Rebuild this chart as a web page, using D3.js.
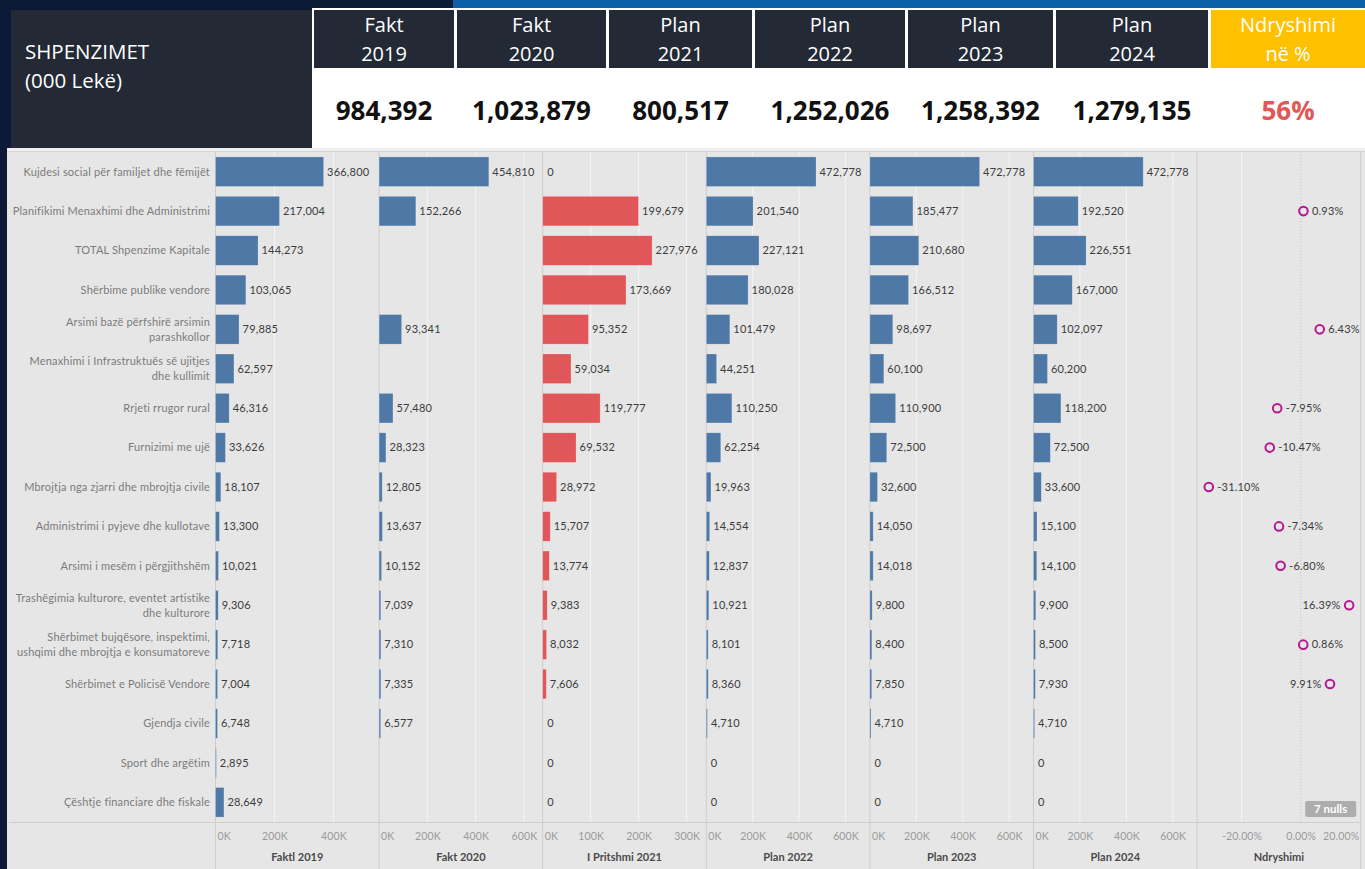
<!DOCTYPE html>
<html>
<head>
<meta charset="utf-8">
<script src="https://cdn.jsdelivr.net/npm/d3@7"></script>
<style>
  body { margin: 0; background: #0c1a38; overflow: hidden; }
  svg { display: block; }
</style>
</head>
<body>
<script>
// categories (row labels), "\n" marks where the label wraps
var categories = [
  "Kujdesi social për familjet dhe fëmijët",
  "Planifikimi Menaxhimi dhe Administrimi",
  "TOTAL Shpenzime Kapitale",
  "Shërbime publike vendore",
  "Arsimi bazë përfshirë arsimin\nparashkollor",
  "Menaxhimi i Infrastruktuës së ujitjes\ndhe kullimit",
  "Rrjeti rrugor rural",
  "Furnizimi me ujë",
  "Mbrojtja nga zjarri dhe mbrojtja civile",
  "Administrimi i pyjeve dhe kullotave",
  "Arsimi i mesëm i përgjithshëm",
  "Trashëgimia kulturore, eventet artistike\ndhe kulturore",
  "Shërbimet bujqësore, inspektimi,\nushqimi dhe mbrojtja e konsumatoreve",
  "Shërbimet e Policisë Vendore",
  "Gjendja civile",
  "Sport dhe argëtim",
  "Çështje financiare dhe fiskale"
];

// series values (000 Lekë), null = no value
var fakt2019     = [366800, 217004, 144273, 103065, 79885, 62597, 46316, 33626, 18107, 13300, 10021, 9306, 7718, 7004, 6748, 2895, 28649];
var fakt2020     = [454810, 152266, null, null, 93341, null, 57480, 28323, 12805, 13637, 10152, 7039, 7310, 7335, 6577, null, null];
var pritshmi2021 = [0, 199679, 227976, 173669, 95352, 59034, 119777, 69532, 28972, 15707, 13774, 9383, 8032, 7606, 0, 0, 0];
var plan2022     = [472778, 201540, 227121, 180028, 101479, 44251, 110250, 62254, 19963, 14554, 12837, 10921, 8101, 8360, 4710, 0, 0];
var plan2023     = [472778, 185477, 210680, 166512, 98697, 60100, 110900, 72500, 32600, 14050, 14018, 9800, 8400, 7850, 4710, 0, 0];
var plan2024     = [472778, 192520, 226551, 167000, 102097, 60200, 118200, 72500, 33600, 15100, 14100, 9900, 8500, 7930, 4710, 0, 0];
var ndryshimi    = [null, 0.0093, null, null, 0.0643, null, -0.0795, -0.1047, -0.3110, -0.0734, -0.0680, 0.1639, 0.0086, 0.0991, null, null, null];

// panels
var panelTitles = ["Faktl 2019", "Fakt 2020", "I Pritshmi 2021", "Plan 2022", "Plan 2023", "Plan 2024", "Ndryshimi"];
var panelSeries = [fakt2019, fakt2020, pritshmi2021, plan2022, plan2023, plan2024];
var panelMax    = [555000, 678000, 341000, 705000, 705000, 705000];
var panelTicks  = [
  [0, 200000, 400000],
  [0, 200000, 400000, 600000],
  [0, 100000, 200000, 300000],
  [0, 200000, 400000, 600000],
  [0, 200000, 400000, 600000],
  [0, 200000, 400000, 600000]
];
var pctDomain = [-0.3505, 0.203];
var pctTicks  = [-0.2, 0, 0.2];

// header table
var headerTitles = [["Fakt", "2019"], ["Fakt", "2020"], ["Plan", "2021"], ["Plan", "2022"], ["Plan", "2023"], ["Plan", "2024"], ["Ndryshimi", "në %"]];
var headerTotals = ["984,392", "1,023,879", "800,517", "1,252,026", "1,258,392", "1,279,135", "56%"];
var headerLeft   = ["SHPENZIMET", "(000 Lekë)"];

// layout
var W = 1365, H = 869;
var headerEdges = [314, 457, 609, 755, 908, 1056, 1211, 1368];
var plotTop = 152, plotBottom = 822;
var panelLeft = 215.5, panelW = 163.6;
var blue = "#4e79a7", red = "#e15759", magenta = "#b5178e";
var chartFont = "Lato, 'Open Sans', sans-serif";
var headFont = "'Open Sans', 'Noto Sans', sans-serif";

var svg = d3.select("body").append("svg")
  .attr("width", W)
  .attr("height", H);

// page background bits
svg.append("rect").attr("width", W).attr("height", H).attr("fill", "#0c1a38");
svg.append("rect").attr("x", 453).attr("y", 0).attr("width", W - 453).attr("height", 8).attr("fill", "#0a5fa8");

/* header table */
var head = svg.append("g").attr("font-family", headFont);
head.append("rect").attr("x", 312).attr("y", 8).attr("width", W - 312).attr("height", 140).attr("fill", "#ffffff");
head.append("rect").attr("x", 11).attr("y", 10).attr("width", 301).attr("height", 138).attr("fill", "#232a36");
head.selectAll("text.left")
  .data(headerLeft)
  .enter().append("text")
  .attr("class", "left")
  .attr("x", 25)
  .attr("y", function (d, i) { return 59 + i * 29; })
  .attr("fill", "#ffffff")
  .attr("font-size", 20.5)
  .text(function (d) { return d; });

headerTitles.forEach(function (t, i) {
  var x0 = headerEdges[i], x1 = headerEdges[i + 1] - 3;
  var cx = (x0 + x1) / 2;
  head.append("rect")
    .attr("x", x0).attr("y", 10)
    .attr("width", x1 - x0).attr("height", 58)
    .attr("fill", i === 6 ? "#ffc000" : "#232a36");
  head.selectAll("text.t" + i)
    .data(t)
    .enter().append("text")
    .attr("x", cx)
    .attr("y", function (d, j) { return 25 + j * 29; })
    .attr("dy", "0.35em")
    .attr("text-anchor", "middle")
    .attr("fill", "#ffffff")
    .attr("font-size", 20)
    .text(function (d) { return d; });
  head.append("text")
    .attr("x", cx)
    .attr("y", 111)
    .attr("dy", "0.35em")
    .attr("text-anchor", "middle")
    .attr("font-size", 26)
    .attr("font-weight", 700)
    .attr("fill", i === 6 ? "#e35656" : "#111111")
    .text(headerTotals[i]);
});

/* chart area */
var chart = svg.append("g").attr("font-family", chartFont);
chart.append("rect").attr("x", 7).attr("y", 148).attr("width", W - 7).attr("height", H - 148).attr("fill", "#e6e6e6");
chart.append("rect").attr("x", 7).attr("y", 148).attr("width", W - 7).attr("height", 3).attr("fill", "#efefef");
chart.append("line").attr("x1", 7).attr("x2", W).attr("y1", 151.5).attr("y2", 151.5).attr("stroke", "#d4d4d4");

var y = d3.scaleBand()
  .domain(categories)
  .range([plotTop, plotBottom])
  .paddingInner(0.25)
  .paddingOuter(0.125);

function rowMid(i) { return y(categories[i]) + y.bandwidth() / 2; }

// row labels
var rowLabels = chart.append("g");
categories.forEach(function (c, i) {
  var lines = c.split("\n");
  var t = rowLabels.append("text")
    .attr("text-anchor", "end")
    .attr("fill", "#7b7b7b")
    .attr("font-size", 11)
    .attr("letter-spacing", 0.18);
  lines.forEach(function (l, j) {
    t.append("tspan")
      .attr("x", 210)
      .attr("y", rowMid(i) + (j - (lines.length - 1) / 2) * 15)
      .attr("dy", "0.35em")
      .text(l);
  });
});

// x scales for panels
var xScales = panelMax.map(function (m, i) {
  return d3.scaleLinear().domain([0, m]).range([panelLeft + i * panelW, panelLeft + (i + 1) * panelW]);
});
var xPct = d3.scaleLinear().domain(pctDomain).range([panelLeft + 6 * panelW, panelLeft + 7 * panelW]);

var grid = chart.append("g");
var marks = chart.append("g");

// gridlines
xScales.forEach(function (x, i) {
  grid.selectAll("line.g" + i)
    .data(panelTicks[i].filter(function (d) { return d !== 0; }))
    .enter().append("line")
    .attr("x1", function (d) { return x(d); })
    .attr("x2", function (d) { return x(d); })
    .attr("y1", plotTop).attr("y2", plotBottom)
    .attr("stroke", "#f4f4f4");
});
grid.selectAll("line.gp")
  .data(pctTicks.filter(function (d) { return d < 0; }))
  .enter().append("line")
  .attr("x1", function (d) { return xPct(d); })
  .attr("x2", function (d) { return xPct(d); })
  .attr("y1", plotTop).attr("y2", plotBottom)
  .attr("stroke", "#f4f4f4");
grid.append("line")
  .attr("x1", xPct(0)).attr("x2", xPct(0))
  .attr("y1", plotTop).attr("y2", plotBottom)
  .attr("stroke", "#c4c4c4")
  .attr("stroke-dasharray", "1,2");

// axis rule and panel borders
grid.append("line")
  .attr("x1", 9).attr("x2", panelLeft + 7 * panelW)
  .attr("y1", plotBottom + 0.5).attr("y2", plotBottom + 0.5)
  .attr("stroke", "#cfcfcf");
grid.selectAll("line.border")
  .data(d3.range(8))
  .enter().append("line")
  .attr("x1", function (d) { return panelLeft + d * panelW; })
  .attr("x2", function (d) { return panelLeft + d * panelW; })
  .attr("y1", plotTop).attr("y2", H)
  .attr("stroke", "#cdcdcd");

// bars and value labels
panelSeries.forEach(function (vals, i) {
  var x = xScales[i];
  var data = vals.map(function (v, j) { return { v: v, j: j }; }).filter(function (d) { return d.v !== null; });
  marks.selectAll("rect.b" + i)
    .data(data)
    .enter().append("rect")
    .attr("x", x(0))
    .attr("y", function (d) { return y(categories[d.j]); })
    .attr("width", function (d) { return x(d.v) - x(0); })
    .attr("height", y.bandwidth())
    .attr("fill", i === 2 ? red : blue)
    .attr("stroke", "rgba(255,255,255,0.35)")
    .attr("stroke-width", 0.6);
  marks.selectAll("text.v" + i)
    .data(data)
    .enter().append("text")
    .attr("x", function (d) { return d.v === 0 ? x(0) + 4.5 : x(d.v) + 3.5; })
    .attr("y", function (d) { return rowMid(d.j); })
    .attr("dy", "0.35em")
    .attr("font-size", 11)
    .attr("letter-spacing", 0.2)
    .attr("fill", "#3c3c3c")
    .text(function (d) { return d3.format(",")(d.v); });
});

// percentage change points
function pctFmt(v) { return (v * 100).toFixed(2) + "%"; }
var pts = ndryshimi.map(function (v, j) { return { v: v, j: j }; }).filter(function (d) { return d.v !== null; });
marks.selectAll("circle.p")
  .data(pts)
  .enter().append("circle")
  .attr("cx", function (d) { return xPct(d.v); })
  .attr("cy", function (d) { return rowMid(d.j); })
  .attr("r", 4.3)
  .attr("fill", "none")
  .attr("stroke", magenta)
  .attr("stroke-width", 2);
marks.selectAll("text.p")
  .data(pts)
  .enter().append("text")
  .attr("x", function (d) { return d.v > 0.08 ? xPct(d.v) - 8.5 : xPct(d.v) + 8.5; })
  .attr("y", function (d) { return rowMid(d.j); })
  .attr("dy", "0.35em")
  .attr("text-anchor", function (d) { return d.v > 0.08 ? "end" : "start"; })
  .attr("font-size", 11)
  .attr("letter-spacing", 0.2)
  .attr("fill", "#3c3c3c")
  .text(function (d) { return pctFmt(d.v); });

// nulls badge
var nullCount = ndryshimi.filter(function (v) { return v === null; }).length;
var badgeR = panelLeft + 7 * panelW - 4.5;
marks.append("rect")
  .attr("x", badgeR - 51).attr("y", 801)
  .attr("width", 51).attr("height", 16)
  .attr("rx", 2)
  .attr("fill", "#adadad");
marks.append("text")
  .attr("x", badgeR - 25.5).attr("y", 809)
  .attr("dy", "0.35em")
  .attr("text-anchor", "middle")
  .attr("font-size", 11.5)
  .attr("font-weight", 700)
  .attr("fill", "#ffffff")
  .text(nullCount + " nulls");

// axes
function clampLabels(g, left, right) {
  g.selectAll(".tick").each(function (d) {
    var tick = d3.select(this);
    var tx = +tick.attr("transform").match(/translate\(([-\d.]+)/)[1];
    var txt = tick.select("text");
    var w = txt.node().getBBox().width;
    var shift = 0;
    if (tx - w / 2 < left + 2) shift = left + 2 - (tx - w / 2);
    if (tx + w / 2 > right - 1.5) shift = right - 1.5 - (tx + w / 2);
    txt.attr("x", shift);
  });
}

function styleAxis(g) {
  g.select(".domain").remove();
  g.selectAll(".tick line").remove();
  g.selectAll(".tick text")
    .attr("y", 14.5)
    .attr("dy", "0.35em")
    .attr("fill", "#9a9a9a")
    .attr("font-size", 10.5)
    .attr("letter-spacing", 0.15)
    .attr("font-family", chartFont);
}

xScales.forEach(function (x, i) {
  var g = chart.append("g")
    .attr("transform", "translate(0," + plotBottom + ")")
    .call(d3.axisBottom(x).tickValues(panelTicks[i]).tickSize(0)
      .tickFormat(function (d) { return (d / 1000) + "K"; }));
  styleAxis(g);
  clampLabels(g, x.range()[0], x.range()[1]);
});
var gp = chart.append("g")
  .attr("transform", "translate(0," + plotBottom + ")")
  .call(d3.axisBottom(xPct).tickValues(pctTicks).tickSize(0).tickFormat(pctFmt));
styleAxis(gp);
clampLabels(gp, xPct.range()[0], xPct.range()[1]);

// panel titles
chart.selectAll("text.title")
  .data(panelTitles)
  .enter().append("text")
  .attr("x", function (d, i) { return panelLeft + (i + 0.5) * panelW; })
  .attr("y", 857)
  .attr("dy", "0.35em")
  .attr("text-anchor", "middle")
  .attr("font-size", 11)
  .attr("font-weight", 700)
  .attr("fill", "#4a4a4a")
  .text(function (d) { return d; });
</script>
</body>
</html>
